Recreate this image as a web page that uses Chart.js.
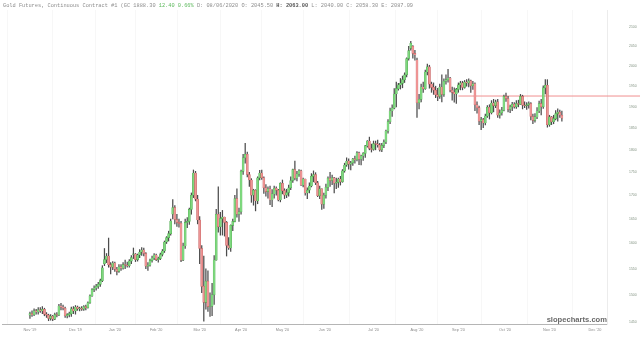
<!DOCTYPE html>
<html>
<head>
<meta charset="utf-8">
<script src="https://cdn.jsdelivr.net/npm/chart.js@4.4.1/dist/chart.umd.min.js"></script>
<style>
  html, body { margin: 0; padding: 0; background: #fff; overflow: hidden; }
  #wrap { position: relative; width: 640px; height: 338px; }
</style>
</head>
<body>
<div id="wrap"><canvas id="goldChart"></canvas></div>
<script>
// Gold futures, daily candles, 12 Nov 2019 -> 18 Nov 2020 (trading-day index on x)
const openPrices = [
  1462,1465,1463,1470,1468,1472,1470,1473,1464,1462, 1456,1460,1455,1463,1462,1479,1477,1475,1461,1463,
  1465,1474,1470,1477,1474,1475,1473,1478,1476,1485, 1498,1510,1513,1516,1520,1527,1560,1568,1575,1558,
  1553,1561,1549,1545,1554,1551,1558,1557,1556,1565, 1578,1579,1568,1577,1583,1587,1580,1555,1557,1566,
  1571,1577,1568,1570,1578,1585,1603,1612,1620,1660, 1674,1649,1643,1641,1567,1595,1643,1645,1670,1700,
  1748,1692,1648,1590,1516,1486,1526,1478,1479,1500, 1567,1660,1634,1651,1654,1643,1596,1591,1637,1645,
  1693,1660,1665,1752,1782,1790,1745,1733,1700,1711, 1688,1738,1748,1738,1716,1708,1714,1690,1703,1715,
  1711,1690,1726,1710,1700,1706,1716,1732,1756,1737, 1746,1753,1722,1735,1705,1711,1720,1741,1745,1727,
  1699,1714,1681,1700,1717,1737,1732,1738,1726,1728, 1735,1729,1753,1766,1775,1768,1771,1780,1778,1793,
  1779,1786,1792,1809,1820,1803,1801,1814,1813,1811, 1800,1810,1818,1843,1865,1890,1897,1931,1944,1953,
  1957,1966,1978,2019,2045,2050,2032,2015,1910,1918, 1948,1944,1985,1998,1955,1947,1940,1929,1925,1948,
  1930,1962,1966,1970,1940,1935,1931,1942,1953,1958, 1947,1960,1958,1963,1951,1956,1905,1898,1866,1870,
  1862,1878,1899,1886,1909,1903,1912,1880,1886,1892, 1925,1920,1894,1900,1906,1900,1908,1906,1925,1904,
  1903,1905,1908,1877,1868,1876,1890,1908,1900,1946, 1952,1858,1876,1865,1872,1884,1887,1880
];
const highPrices = [
  1468,1470,1474,1473,1476,1476,1478,1475,1467,1464, 1463,1462,1466,1467,1482,1484,1481,1477,1465,1468,
  1477,1478,1480,1479,1477,1478,1480,1481,1487,1500, 1512,1517,1520,1524,1530,1556,1590,1580,1611,1562,
  1564,1563,1553,1558,1558,1562,1567,1563,1568,1576, 1591,1580,1579,1588,1592,1591,1582,1562,1569,1575,
  1580,1579,1573,1581,1588,1605,1614,1625,1650,1691, 1678,1660,1650,1645,1601,1650,1653,1673,1705,1755,
  1752,1700,1655,1596,1575,1550,1546,1504,1522,1576, 1670,1718,1664,1668,1654,1645,1612,1638,1650,1700,
  1714,1673,1755,1790,1815,1795,1750,1736,1713,1712, 1740,1754,1755,1740,1723,1718,1720,1712,1720,1718,
  1713,1727,1733,1714,1713,1722,1740,1757,1775,1752, 1756,1755,1737,1735,1716,1727,1747,1753,1749,1730,
  1720,1714,1705,1724,1740,1750,1744,1739,1737,1737, 1741,1756,1770,1782,1780,1774,1781,1786,1796,1795,
  1788,1794,1810,1821,1829,1813,1820,1820,1822,1815, 1815,1823,1845,1870,1897,1905,1944,1960,1957,1969,
  1975,1983,2021,2050,2063,2052,2040,2020,1930,1955, 1960,1990,2005,2002,1960,1958,1950,1945,1955,1978,
  1968,1978,1992,1972,1948,1946,1945,1958,1962,1962, 1964,1966,1968,1965,1962,1958,1912,1902,1875,1873,
  1883,1903,1905,1915,1918,1916,1918,1893,1899,1928, 1933,1925,1904,1911,1910,1915,1916,1930,1928,1912,
  1910,1912,1910,1883,1884,1898,1914,1918,1951,1966, 1966,1880,1877,1880,1891,1895,1892,1890
];
const lowPrices = [
  1456,1460,1461,1464,1464,1467,1465,1461,1458,1452, 1453,1452,1454,1459,1461,1472,1472,1458,1457,1459,
  1460,1465,1464,1471,1470,1471,1471,1472,1475,1484, 1497,1506,1509,1512,1516,1525,1556,1562,1553,1540,
  1548,1545,1538,1543,1547,1549,1550,1553,1553,1560, 1570,1564,1565,1572,1576,1575,1550,1547,1555,1563,
  1568,1566,1563,1568,1575,1582,1600,1605,1617,1650, 1640,1635,1633,1564,1566,1590,1632,1639,1660,1695,
  1688,1640,1560,1504,1451,1473,1469,1460,1461,1482, 1567,1623,1617,1617,1615,1575,1588,1584,1626,1644,
  1654,1645,1660,1745,1770,1740,1719,1685,1679,1667, 1682,1733,1734,1704,1698,1694,1680,1676,1694,1700,
  1688,1686,1703,1693,1695,1698,1712,1728,1733,1731, 1741,1721,1718,1700,1693,1705,1718,1729,1723,1697,
  1693,1670,1672,1694,1710,1719,1723,1705,1714,1717, 1722,1728,1750,1763,1757,1755,1765,1770,1775,1767,
  1766,1776,1783,1806,1800,1795,1799,1800,1806,1797, 1796,1805,1814,1838,1860,1877,1895,1900,1940,1943,
  1946,1959,1973,2015,2040,2020,2015,1875,1895,1912, 1935,1942,1978,1945,1935,1930,1922,1915,1920,1912,
  1925,1955,1960,1936,1916,1911,1908,1935,1941,1941, 1945,1950,1948,1935,1942,1891,1885,1858,1846,1851,
  1857,1875,1871,1883,1888,1898,1875,1873,1880,1890, 1913,1888,1886,1891,1897,1896,1900,1906,1895,1898,
  1894,1897,1869,1860,1864,1872,1886,1881,1896,1931, 1852,1854,1858,1860,1869,1866,1875,1866
];
const closePrices = [
  1465,1463,1470,1468,1472,1470,1473,1464,1462,1456, 1460,1455,1463,1462,1479,1477,1475,1461,1463,1465,
  1474,1470,1477,1474,1475,1473,1478,1476,1485,1498, 1510,1513,1516,1520,1527,1552,1568,1575,1558,1553,
  1561,1549,1545,1554,1551,1558,1557,1556,1565,1572, 1579,1568,1577,1583,1587,1580,1555,1557,1566,1571,
  1577,1568,1570,1578,1585,1603,1612,1620,1646,1674, 1649,1643,1641,1567,1595,1643,1645,1670,1700,1748,
  1692,1648,1590,1516,1486,1526,1478,1479,1500,1567, 1660,1634,1651,1654,1643,1596,1591,1637,1645,1693,
  1660,1665,1752,1782,1790,1745,1733,1700,1711,1688, 1738,1748,1738,1716,1708,1714,1690,1703,1715,1711,
  1690,1726,1710,1700,1706,1716,1732,1756,1737,1746, 1753,1722,1735,1705,1711,1720,1741,1745,1727,1699,
  1714,1681,1700,1717,1737,1732,1738,1726,1728,1735, 1729,1753,1766,1775,1768,1771,1780,1778,1793,1779,
  1786,1792,1809,1820,1803,1801,1814,1813,1811,1800, 1810,1818,1843,1865,1890,1897,1931,1944,1953,1957,
  1966,1978,2019,2039,2058,2032,2028,1910,1918,1948, 1944,1985,1998,1955,1947,1940,1929,1925,1948,1930,
  1962,1966,1970,1940,1935,1931,1942,1953,1958,1947, 1960,1958,1963,1951,1956,1905,1898,1866,1870,1862,
  1878,1899,1886,1909,1903,1912,1880,1886,1892,1925, 1920,1894,1900,1906,1900,1908,1906,1925,1904,1903,
  1905,1908,1877,1868,1876,1890,1908,1900,1946,1952, 1858,1876,1865,1872,1884,1887,1880,1873
];

// month labels and the trading-day index they sit on
const monthLabels = ["Nov '19","Dec '19","Jan '20","Feb '20","Mar '20","Apr '20","May '20",
                     "Jun '20","Jul '20","Aug '20","Sep '20","Oct '20","Nov '20","Dec '20"];
const monthTickIndex = [0, 22, 41, 61, 82, 102, 122, 142.5, 166, 187, 207, 229.5, 251, 273];

// price axis ticks
const priceTicks = [1450,1500,1550,1600,1650,1700,1750,1800,1850,1900,1950,2000,2050,2100];

// horizontal level drawn on the chart
const levelPrice = 1926;
const levelFrom = 207;
const levelTo = 330;

// header line
const headerParts = [
  { text: 'Gold Futures, Continuous Contract #1 (GC 1888.30 ', color: '#8d8d8d' },
  { text: '12.40 0.66%', color: '#5cb85c' },
  { text: ' D: 08/06/2020 O: 2045.50 ', color: '#8d8d8d' },
  { text: 'H: 2063.00', color: '#555555', bold: true },
  { text: ' L: 2040.00 C: 2058.30 E: 2087.09', color: '#8d8d8d' }
];

// build candle pieces
const bodies = openPrices.map((o, i) => ({ x: i, y: [o, closePrices[i]] }));
const wicks = lowPrices.map((l, i) => ({ x: i, y: [l, highPrices[i]] }));
const isUp = openPrices.map((o, i) => closePrices[i] >= o);

const overlayText = {
  id: 'overlayText',
  afterDraw(chart) {
    const ctx = chart.ctx;
    ctx.save();
    ctx.textBaseline = 'middle';
    let x = 3;
    headerParts.forEach(p => {
      ctx.font = (p.bold ? 'bold ' : '') + '5.3px "Liberation Mono"';
      ctx.fillStyle = p.color;
      ctx.fillText(p.text, x, 5.5);
      x += ctx.measureText(p.text).width;
    });
    // watermark
    ctx.font = 'bold 7.6px "Liberation Sans"';
    ctx.fillStyle = '#6a6a6a';
    ctx.textAlign = 'right';
    ctx.textBaseline = 'alphabetic';
    ctx.fillText('slopecharts.com', chart.chartArea.right, chart.chartArea.bottom - 2);
    ctx.restore();
  }
};

var ctx = document.getElementById('goldChart').getContext('2d');
var goldChart = new Chart(ctx, {
  type: 'bar',
  data: {
    datasets: [
      {
        label: 'body',
        data: bodies,
        backgroundColor: isUp.map(u => u ? '#7ed87e' : '#ee9494'),
        borderColor: isUp.map(u => u ? '#3f9a3f' : '#b24a4a'),
        borderWidth: 0.3,
        borderSkipped: false,
        barThickness: 2,
        minBarLength: 0.6,
        grouped: false,
        order: 0
      },
      {
        label: 'wick',
        data: wicks,
        backgroundColor: '#4d4d4d',
        borderWidth: 0,
        barThickness: 0.6,
        grouped: false,
        order: 1
      },
      {
        type: 'line',
        label: 'level',
        data: [{ x: levelFrom, y: levelPrice }, { x: levelTo, y: levelPrice }],
        borderColor: '#f09090',
        borderWidth: 1,
        pointRadius: 0,
        clip: false,
        order: 2
      }
    ]
  },
  options: {
    responsive: true,
    maintainAspectRatio: false,
    animation: false,
    layout: { padding: { top: 10, left: 2, right: 0, bottom: 0 } },
    plugins: {
      legend: { display: false },
      tooltip: { enabled: false }
    },
    scales: {
      x: {
        type: 'linear',
        offset: false,
        min: -13.5,
        max: 278.8,
        afterFit: s => { s.height = 14; s.paddingLeft = 0; s.paddingRight = 0; },
        afterBuildTicks: s => { s.ticks = monthTickIndex.map(v => ({ value: v })); },
        grid: { color: '#f1f1f1', lineWidth: 0.6, drawTicks: false },
        border: { color: '#b5b5b5', width: 1 },
        ticks: {
          autoSkip: false,
          maxRotation: 0,
          padding: 4,
          color: '#8a8a8a',
          font: { size: 3.8, family: 'Liberation Sans' },
          callback: (v, i) => monthLabels[i]
        }
      },
      y: {
        type: 'logarithmic',
        position: 'right',
        min: 1446,
        max: 2146,
        afterFit: s => { s.width = 33; s.paddingTop = 0; s.paddingBottom = 0; },
        afterBuildTicks: s => { s.ticks = priceTicks.map(v => ({ value: v })); },
        grid: { display: false, drawTicks: false },
        border: { color: '#ececec', width: 1 },
        ticks: {
          padding: 22,
          color: '#7f907f',
          font: { size: 3.4, family: 'Liberation Sans' },
          callback: v => String(v)
        }
      }
    }
  },
  plugins: [overlayText]
});
</script>
</body>
</html>
